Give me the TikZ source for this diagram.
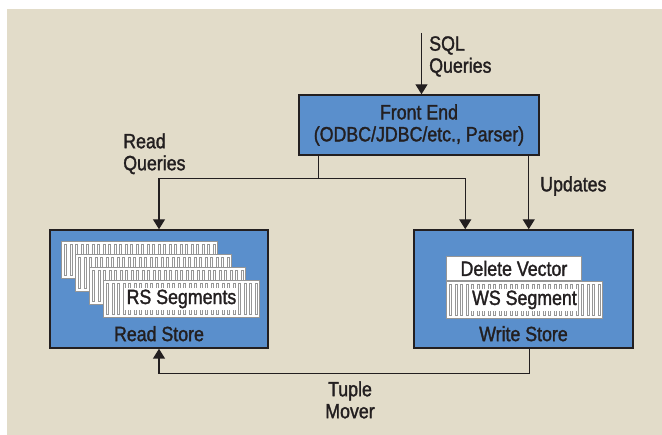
\documentclass[tikz,border=0pt]{standalone}
\usepackage{fontspec}
\setmainfont[FakeStretch=0.86,FakeBold=1.5]{Liberation Sans}
\usetikzlibrary{arrows.meta,calc}
\definecolor{fond}{RGB}{226,220,201}
\definecolor{bleu}{RGB}{90,143,204}
\definecolor{trait}{RGB}{35,31,32}
\definecolor{grille}{RGB}{150,150,150}

% rayures d'un segment
\newcommand\rayures[1]{%
  \foreach \i in {0,...,27}
    \draw[slot] ($(#1.north west)+(3.5+5.5*\i,3)$) rectangle ++(2.2,31);}

\begin{document}
\begin{tikzpicture}[x=0.75pt,y=0.75pt,yscale=-1,
  font=\fontsize{15.5}{16.5}\selectfont,
  store/.style={draw=trait, line width=1.1pt, fill=bleu, align=center, text=trait},
  fleche/.style={draw=trait, line width=1.1pt, -{Triangle[width=9pt,length=7.5pt]}},
  lbl/.style={inner sep=0pt, text=trait},
  seg/.style={draw=grille, fill=white, line width=.7pt, minimum width=117pt,
    minimum height=27.75pt, anchor=north west, inner sep=0pt, text=trait},
  slot/.style={draw=grille, line width=.5pt}]
\useasboundingbox (0,0) rectangle (662,435);
% fond beige
\fill[fond] (7,9) rectangle (662,435);

\node[store, minimum width=180pt, minimum height=45pt] (fe) at (419,125)
  {Front End\\(ODBC/JDBC/etc., Parser)};
\node[store, minimum width=163.5pt, minimum height=88.5pt] (rs) at (159,289) {};
\node[store, minimum width=164.25pt, minimum height=88.5pt] (ws) at (523.5,289) {};

% read store
\foreach \k in {1,...,4} {
  \node[seg] (rs\k) at (47+14*\k,228+13*\k) {};
  \rayures{rs\k}
}
\node[lbl, fill=white, inner sep=1pt] (rstxt) at (rs4.center) {RS Segments};
\node[lbl] (rslbl) at ($(rs.south)+(0,-15)$) {Read Store};

% write store
\node[seg, minimum width=101.25pt, minimum height=18pt] (dv) at (446,256) {Delete Vector};
\node[seg] (wsseg) at (dv.south west) {};
\rayures{wsseg}
\node[lbl, fill=white, inner sep=1pt] (wstxt) at (wsseg.center) {WS Segment};
\node[lbl] (wslbl) at ($(ws.south)+(0,-15)$) {Write Store};

% fleches
\coordinate (sql) at (421.5,33);
\draw[fleche] (sql) -- (sql |- fe.north);
\coordinate (rq) at ($(fe.south west)+(20,0)$);
\coordinate (coude) at ($(rq)+(0,23)$);
\draw[fleche] (rq) -- (coude) -| (rs.north);
\draw[fleche] (coude) -| ($(ws.north west)+(52,0)$);
\coordinate (upd) at ($(fe.south east)+(-11,0)$);
\draw[fleche] (upd) -- (upd |- ws.north);
\coordinate (tm) at ($(ws.south west)+(116,0)$);
\draw[fleche] (tm) -- ++(0,25) -| (rs.south);

% etiquettes
\node[lbl, anchor=north west, align=left] (sqllbl) at (429,36) {SQL\\Queries};
\node[lbl, anchor=north west, align=left] (rqlbl) at (123,133) {Read\\Queries};
\node[lbl, anchor=west] (updlbl) at (540,186) {Updates};
\node[lbl, anchor=north, align=center] (tmlbl) at (350,381) {Tuple\\Mover};
\end{tikzpicture}
\end{document}
